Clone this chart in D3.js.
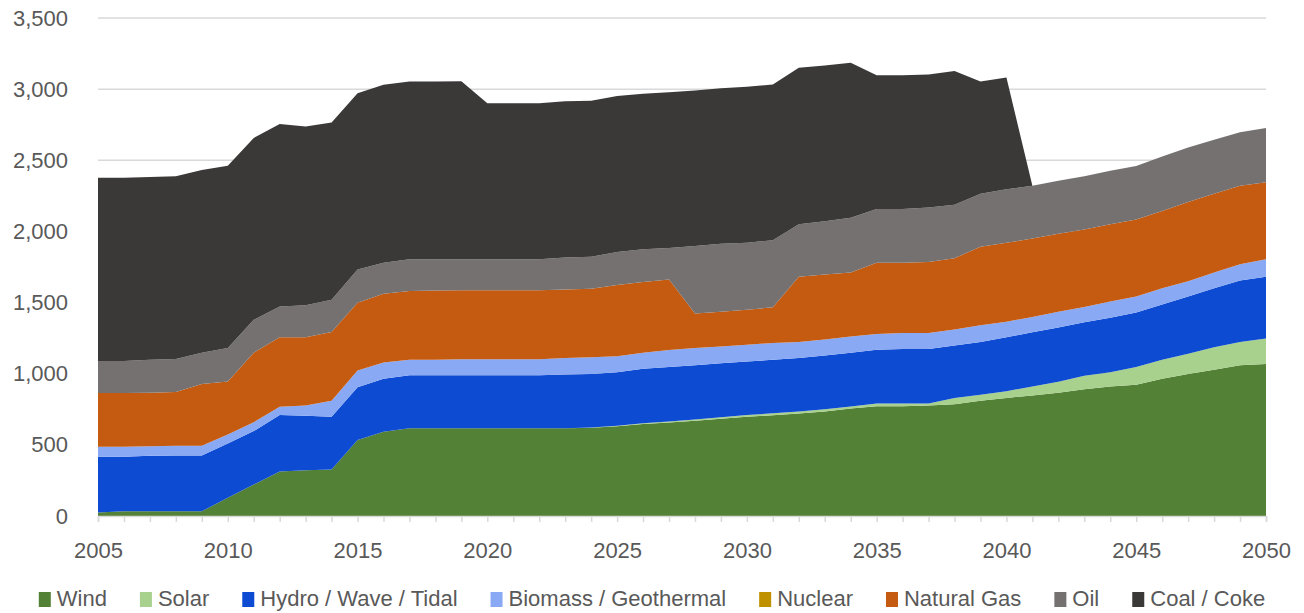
<!DOCTYPE html>
<html>
<head>
<meta charset="utf-8">
<script src="https://cdn.jsdelivr.net/npm/d3@7"></script>
<style>
  body { margin: 0; background: #fff; }
  svg text { font-family: "Liberation Sans", Arial, sans-serif; fill: #595959; }
</style>
</head>
<body>
<div id="chart"></div>
<script>
// datos
const years = d3.range(2005, 2051);
const seriesNames = ["Wind", "Solar", "Hydro / Wave / Tidal", "Biomass / Geothermal", "Nuclear", "Natural Gas", "Oil", "Coal / Coke"];
const seriesColors = ["#538135", "#a9d18e", "#0d4bd3", "#8aa9f4", "#bf9000", "#c55a11", "#757171", "#3b3838"];

const wind = [25, 33, 33, 33, 33, 128, 221, 313, 321, 326, 534, 592, 617, 617, 617,
  617, 617, 617, 617, 620, 630, 646, 657, 670, 684, 697, 708, 720, 735, 755,
  772, 772, 777, 785, 810, 830, 847, 867, 890, 910, 923, 965, 998, 1028, 1060, 1068];
const solar = [0, 0, 0, 0, 0, 0, 0, 0, 0, 0, 0, 0, 0, 0, 0,
  0, 0, 0, 0, 2, 4, 6, 7, 9, 10, 12, 14, 15, 15, 15,
  18, 18, 13, 45, 42, 47, 63, 76, 95, 100, 125, 133, 143, 158, 163, 180];
const hydro = [391, 383, 391, 393, 393, 381, 376, 396, 383, 371, 371, 373, 373, 373, 373,
  373, 373, 373, 378, 376, 376, 383, 384, 381, 379, 376, 376, 376, 378, 378,
  378, 383, 383, 368, 371, 379, 381, 381, 376, 384, 383, 389, 401, 414, 432, 434];
const biomass = [70, 70, 67, 68, 68, 63, 62, 58, 73, 113, 118, 113, 108, 108, 111,
  111, 111, 111, 116, 118, 113, 113, 118, 121, 118, 118, 118, 112, 113, 113,
  111, 113, 113, 113, 118, 110, 108, 112, 108, 113, 111, 113, 108, 112, 115, 123];
const nuclear = years.map(() => 0);
const gas = [379, 379, 376, 378, 433, 373, 489, 489, 479, 483, 476, 484, 484, 486, 486,
  486, 486, 486, 481, 481, 501, 496, 496, 243, 245, 246, 251, 459, 456, 451,
  501, 494, 499, 501, 552, 554, 551, 547, 544, 544, 541, 544, 556, 552, 551, 541];
const oil = [225, 225, 231, 231, 221, 236, 231, 216, 226, 226, 233, 218, 223, 221, 218,
  218, 218, 218, 225, 225, 231, 231, 221, 474, 477, 471, 471, 369, 374, 384,
  378, 378, 383, 376, 371, 376, 371, 373, 375, 375, 376, 383, 384, 381, 376, 381];
const coal = [1287, 1287, 1284, 1284, 1284, 1281, 1278, 1283, 1256, 1246, 1239, 1251, 1248, 1248, 1250,
  1095, 1095, 1095, 1098, 1096, 1096, 1093, 1095, 1093, 1093, 1096, 1095, 1100, 1095, 1090,
  940, 940, 935, 940, 789, 785, 0, 0, 0, 0, 0, 0, 0, 0, 0, 0];
const yTicks = [0, 500, 1000, 1500, 2000, 2500, 3000, 3500];
const xTickLabels = [2005, 2010, 2015, 2020, 2025, 2030, 2035, 2040, 2045, 2050];

document.addEventListener("DOMContentLoaded", function () {
    drawChart();
});

function drawChart(){
    const allSeries = [wind, solar, hydro, biomass, nuclear, gas, oil, coal];
    const rows = years.map((yr, i) => {
        const row = { year: yr };
        seriesNames.forEach((name, k) => { row[name] = allSeries[k][i]; });
        return row;
    });

    const width = 1304, height = 613;
    const margin = {top: 18, right: 38, bottom: 97, left: 98};

    const svg = d3.select("#chart").append("svg")
        .attr("width", width)
        .attr("height", height);

    const x = d3.scaleLinear()
        .domain([2005, 2050])
        .range([margin.left, width - margin.right]);

    const y = d3.scaleLinear()
        .domain([0, 3500])
        .range([height - margin.bottom, margin.top]);

    // lineas de la cuadricula
    svg.append("g")
        .selectAll("line")
        .data(yTicks.filter(d => d > 0))
        .join("line")
        .attr("x1", x(2005))
        .attr("x2", x(2050))
        .attr("y1", d => y(d))
        .attr("y2", d => y(d))
        .attr("stroke", "#d9d9d9")
        .attr("stroke-width", 1.5);

    // areas apiladas
    const stack = d3.stack().keys(seriesNames);
    const layers = stack(rows);

    const area = d3.area()
        .x(d => x(d.data.year))
        .y0(d => y(d[0]))
        .y1(d => y(d[1]));

    svg.append("g")
        .selectAll("path")
        .data(layers)
        .join("path")
        .attr("d", area)
        .attr("fill", (d, i) => seriesColors[i]);

    // eje X
    const xAxis = svg.append("g")
        .attr("transform", `translate(0, ${y(0)})`)
        .call(d3.axisBottom(x)
            .tickValues(years)
            .tickSize(6)
            .tickFormat(d => xTickLabels.includes(d) ? d : ""));
    xAxis.select(".domain").attr("stroke", "#d9d9d9").attr("stroke-width", 1.5);
    xAxis.selectAll(".tick line").attr("stroke", "#d9d9d9").attr("stroke-width", 1.5);
    xAxis.selectAll("text")
        .attr("dy", 0)
        .attr("y", 42)
        .style("font-size", "22px")
        .attr("fill", "#595959");

    // eje Y
    const yAxis = svg.append("g")
        .attr("transform", `translate(${margin.left}, 0)`)
        .call(d3.axisLeft(y)
            .tickValues(yTicks)
            .tickSize(0)
            .tickPadding(30)
            .tickFormat(d3.format(",")));
    yAxis.select(".domain").remove();
    yAxis.selectAll("text")
        .style("font-size", "22px")
        .attr("fill", "#595959");

    // leyenda
    const legend = svg.append("g");
    const items = legend.selectAll("g")
        .data(seriesNames)
        .join("g");
    items.append("rect")
        .attr("width", 12)
        .attr("height", 15)
        .attr("y", -14)
        .attr("fill", (d, i) => seriesColors[i]);
    items.append("text")
        .attr("x", 18)
        .attr("y", 0)
        .style("font-size", "22px")
        .text(d => d);

    let pos = 0;
    const gap = 33;
    items.each(function () {
        const w = this.getBBox().width;
        d3.select(this).attr("transform", `translate(${pos}, 606)`);
        pos += w + gap;
    });
    const total = pos - gap;
    legend.attr("transform", `translate(${(width - total) / 2}, 0)`);
}
</script>
</body>
</html>
